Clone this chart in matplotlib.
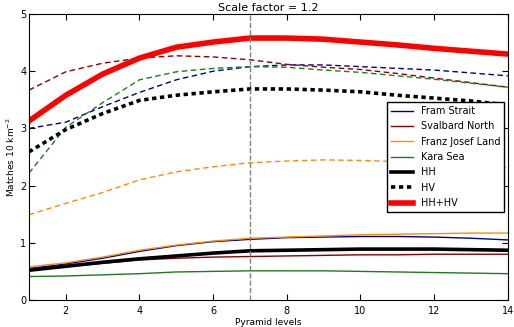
import matplotlib
matplotlib.use("Agg")
import matplotlib.pyplot as plt

levels = list(range(1, 15))

# HV (dashed) per region
fram_hv = [3.00, 3.11, 3.38, 3.63, 3.85, 4.00, 4.08, 4.11, 4.11, 4.08, 4.05, 4.02, 3.97, 3.92]
svalbard_hv = [3.67, 3.99, 4.14, 4.23, 4.27, 4.25, 4.20, 4.12, 4.07, 4.03, 3.96, 3.88, 3.80, 3.72]
franz_hv = [1.49, 1.69, 1.88, 2.10, 2.24, 2.33, 2.40, 2.43, 2.45, 2.44, 2.42, 2.38, 2.34, 2.31]
kara_hv = [2.22, 3.02, 3.45, 3.85, 3.99, 4.05, 4.08, 4.07, 4.02, 3.98, 3.92, 3.86, 3.79, 3.72]

# HH (solid) per region
fram_hh = [0.55, 0.63, 0.73, 0.85, 0.95, 1.02, 1.06, 1.09, 1.10, 1.11, 1.11, 1.10, 1.08, 1.05]
svalbard_hh = [0.52, 0.58, 0.64, 0.70, 0.73, 0.75, 0.76, 0.77, 0.78, 0.79, 0.79, 0.80, 0.80, 0.80]
franz_hh = [0.58, 0.65, 0.75, 0.87, 0.96, 1.03, 1.08, 1.10, 1.12, 1.14, 1.15, 1.16, 1.17, 1.17]
kara_hh = [0.41, 0.42, 0.44, 0.46, 0.49, 0.50, 0.51, 0.51, 0.51, 0.50, 0.49, 0.48, 0.47, 0.46]

# totals
hh_all = [0.52, 0.59, 0.66, 0.72, 0.77, 0.82, 0.86, 0.87, 0.88, 0.89, 0.89, 0.89, 0.88, 0.87]
hv_all = [2.59, 2.98, 3.26, 3.49, 3.58, 3.64, 3.69, 3.69, 3.67, 3.64, 3.58, 3.53, 3.48, 3.41]
hhhv_all = [3.13, 3.58, 3.95, 4.23, 4.42, 4.51, 4.58, 4.58, 4.56, 4.51, 4.46, 4.40, 4.35, 4.30]

region_names = ["Fram Strait", "Svalbard North", "Franz Josef Land", "Kara Sea"]
region_colors = ["#00008b", "#8b0000", "#ff8c00", "#1f7a1f"]
chosen_level = 7
title = "Scale factor = 1.2"

fig = plt.figure(figsize=(5.14, 3.27), dpi=100)
ax = fig.add_axes([0.0564, 0.0826, 0.9316, 0.8745])

hv_sets = [fram_hv, svalbard_hv, franz_hv, kara_hv]
hh_sets = [fram_hh, svalbard_hh, franz_hh, kara_hh]
for name, col, hv, hh in zip(region_names, region_colors, hv_sets, hh_sets):
    ax.plot(levels, hh, color=col, lw=1.0, label=name)
    ax.plot(levels, hv, color=col, lw=1.0, ls=(0, (4, 2.5)))

ax.plot(levels, hh_all, color="black", lw=2.6, label="HH")
ax.plot(levels, hv_all, color="black", lw=2.6, ls=(0, (1.2, 1.0)), label="HV")
ax.plot(levels, hhhv_all, color="red", lw=4, label="HH+HV")

ax.axvline(chosen_level, color="gray", ls="--", lw=1)

ax.set_xlim(1, 14)
ax.set_ylim(0, 5)
ax.set_xticks([2, 4, 6, 8, 10, 12, 14])
ax.set_yticks([0, 1, 2, 3, 4, 5])
ax.tick_params(direction="in", top=True, right=True, labelsize=7, length=4)
ax.tick_params(axis="x", pad=4)
ax.tick_params(axis="y", pad=2)
ax.set_xlabel("Pyramid levels", fontsize=6.5, labelpad=2)
ax.set_ylabel("Matches 10 km$^{-2}$", fontsize=6.5, labelpad=2)
ax.set_title(title, fontsize=8, pad=2)

leg = ax.legend(loc="center right", fontsize=7, frameon=True, fancybox=False,
                edgecolor="black", framealpha=1, borderaxespad=0.4,
                handlelength=2.2, labelspacing=0.55)
leg.get_frame().set_linewidth(1)

fig.savefig("out.png", dpi=100)
